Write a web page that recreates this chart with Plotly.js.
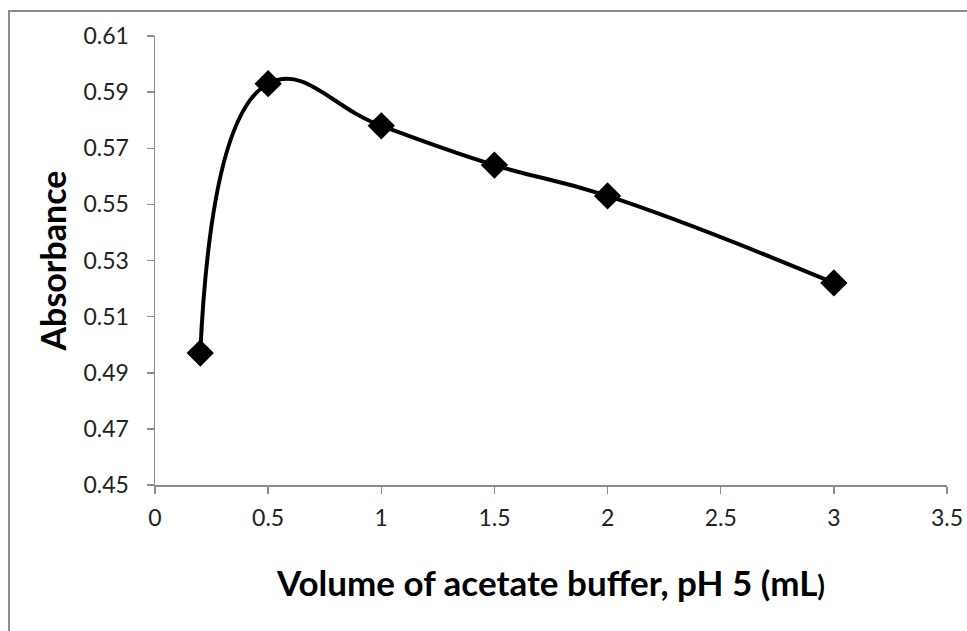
<!DOCTYPE html>
<html>
<head>
<meta charset="utf-8">
<script src="https://cdn.plot.ly/plotly-3.0.1.min.js"></script>
<style>
  html, body { margin: 0; padding: 0; background: #fff; }
  #chart { width: 967px; height: 631px; position: relative; }
  #frame { position: absolute; left: 8px; top: 10px; width: 1000px; height: 700px;
           border: 2px solid #8c8c8c; box-sizing: border-box; pointer-events: none; }
</style>
</head>
<body>
<div id="chart"></div>
<div id="frame"></div>
<script>
const volume = [0.2, 0.5, 1, 1.5, 2, 3];
const absorbance = [0.497, 0.593, 0.578, 0.564, 0.553, 0.522];
const xTicks = [0, 0.5, 1, 1.5, 2, 2.5, 3, 3.5];
const yTicks = [0.45, 0.47, 0.49, 0.51, 0.53, 0.55, 0.57, 0.59, 0.61];

const fontFam = 'Lato, "Open Sans", sans-serif';

Plotly.newPlot('chart', [{
  x: volume,
  y: absorbance,
  type: 'scatter',
  mode: 'lines+markers',
  line: { color: '#000', width: 4, shape: 'spline', smoothing: 1.3 },
  marker: { symbol: 'diamond', size: 21, color: '#000' },
  cliponaxis: false,
  showlegend: false
}], {
  width: 967, height: 631,
  margin: { l: 155, r: 20, t: 36, b: 146 },
  paper_bgcolor: '#fff', plot_bgcolor: '#fff',
  font: { family: fontFam, color: '#222' },
  xaxis: {
    range: [0, 3.5], tickvals: xTicks, ticktext: xTicks.map(String),
    showgrid: false, zeroline: false, showline: true, linecolor: '#8c8c8c', linewidth: 1.5,
    ticks: 'outside', ticklen: 7, tickcolor: '#8c8c8c', tickwidth: 1.5,
    tickfont: { size: 23, family: fontFam, color: '#222' },
    ticklabelstandoff: 5,
    title: { text: 'Volume of acetate buffer, pH 5 (mL<span style="font-size:28px">)</span>',
             font: { size: 35, family: fontFam, color: '#000', weight: 'bold' }, standoff: 41 }
  },
  yaxis: {
    range: [0.45, 0.61], tickvals: yTicks, ticktext: yTicks.map(v => v.toFixed(2)),
    showgrid: false, zeroline: false, showline: true, linecolor: '#8c8c8c', linewidth: 1.5,
    ticks: 'outside', ticklen: 7, tickcolor: '#8c8c8c', tickwidth: 1.5,
    tickfont: { size: 23, family: fontFam, color: '#222' },
    ticklabelstandoff: 13,
    title: { text: 'Absorbance', font: { size: 34, family: fontFam, color: '#000', weight: 'bold' }, standoff: 6 }
  }
}, { displayModeBar: false, staticPlot: true });
</script>
</body>
</html>
